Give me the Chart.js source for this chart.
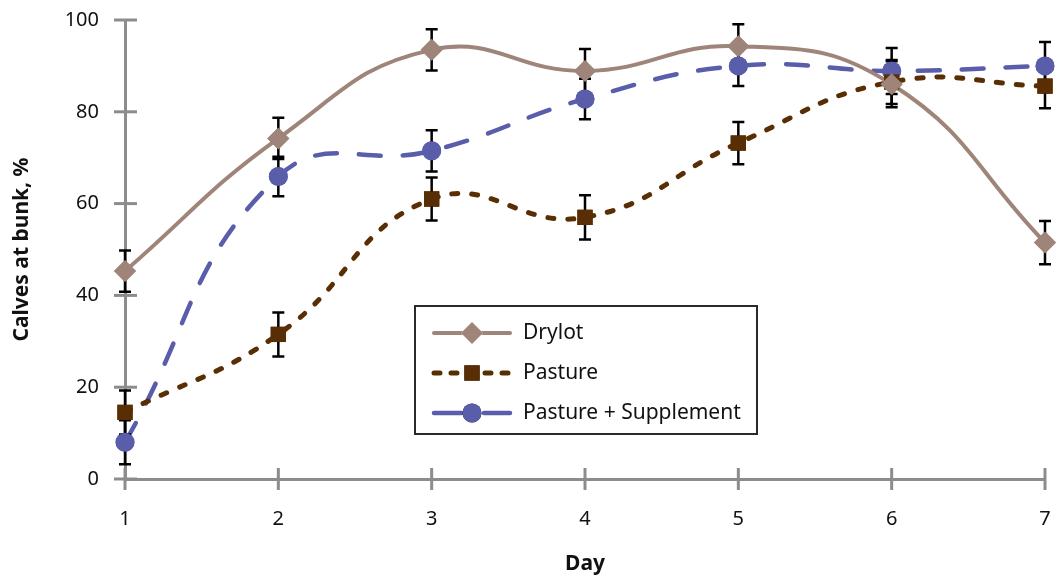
<!DOCTYPE html>
<html>
<head>
<meta charset="utf-8">
<script src="https://cdn.jsdelivr.net/npm/chart.js@4"></script>
<style>
  html, body { margin: 0; padding: 0; background: #fff; }
  #wrap { width: 1056px; height: 581px; }
</style>
</head>
<body>
<div id="wrap"><canvas id="chart" width="1056" height="581"></canvas></div>
<script>
const days = ['1', '2', '3', '4', '5', '6', '7'];
const drylot = [45.3, 74.2, 93.5, 88.9, 94.3, 86.0, 51.5];
const drylotErr = [4.5, 4.5, 4.5, 4.8, 4.8, 5.0, 4.7];
const pasture = [14.5, 31.5, 61.0, 57.0, 73.2, 86.5, 85.6];
const pastureErr = [4.8, 4.8, 4.7, 4.8, 4.6, 4.8, 4.8];
const suppl = [8.0, 65.9, 71.5, 82.8, 90.0, 88.9, 90.0];
const supplErr = [4.8, 4.3, 4.5, 4.4, 4.4, 5.0, 5.2];
const yTicks = [0, 20, 40, 60, 80, 100];

const FONT = '"Noto Sans", "Open Sans", sans-serif';
const axisGray = '#8c8c8c';

// error bars, then the points again so they sit on top
const errorBars = {
  id: 'errorBars',
  afterDatasetsDraw(chart) {
    const { ctx, scales: { x, y } } = chart;
    ctx.save();
    ctx.strokeStyle = '#000';
    ctx.lineWidth = 2.5;
    chart.data.datasets.forEach(ds => {
      ds.data.forEach((v, i) => {
        const e = ds.err[i];
        const px = x.getPixelForValue(i);
        const top = y.getPixelForValue(v + e);
        const bot = y.getPixelForValue(v - e);
        ctx.beginPath();
        ctx.moveTo(px, top); ctx.lineTo(px, bot);
        ctx.moveTo(px - 6, top); ctx.lineTo(px + 6, top);
        ctx.moveTo(px - 6, bot); ctx.lineTo(px + 6, bot);
        ctx.stroke();
      });
    });
    ctx.restore();
    for (let di = chart.data.datasets.length - 1; di >= 0; di--) {
      chart.getDatasetMeta(di).data.forEach(p => p.draw(ctx, chart.chartArea));
    }
  }
};

// axis ticks crossing the axis lines
const crossTicks = {
  id: 'crossTicks',
  afterDraw(chart) {
    const { ctx, scales: { x, y }, chartArea: a } = chart;
    ctx.save();
    ctx.strokeStyle = axisGray;
    ctx.lineWidth = 3;
    y.ticks.forEach(t => {
      const py = y.getPixelForValue(t.value);
      ctx.beginPath(); ctx.moveTo(a.left - 11, py); ctx.lineTo(a.left + 12, py); ctx.stroke();
    });
    x.ticks.forEach((t, i) => {
      const px = x.getPixelForValue(i);
      ctx.beginPath(); ctx.moveTo(px, a.bottom - 11); ctx.lineTo(px, a.bottom + 11); ctx.stroke();
    });
    ctx.restore();
  }
};

// boxed legend inside the plot
const boxLegend = {
  id: 'boxLegend',
  afterDraw(chart) {
    const { ctx } = chart;
    const bx = 415, by = 306, bw = 342, bh = 128;
    ctx.save();
    ctx.fillStyle = '#fff';
    ctx.fillRect(bx, by, bw, bh);
    ctx.strokeStyle = '#2a2a2a';
    ctx.lineWidth = 2;
    ctx.strokeRect(bx, by, bw, bh);
    const rows = [333, 373, 413];
    chart.data.datasets.forEach((ds, i) => {
      const ry = rows[i];
      ctx.strokeStyle = ds.borderColor;
      ctx.lineWidth = ds.borderWidth;
      ctx.lineCap = 'round';
      ctx.setLineDash(i === 1 ? [6, 11] : (i === 2 ? [28, 22] : []));
      ctx.beginPath(); ctx.moveTo(434, ry); ctx.lineTo(510, ry); ctx.stroke();
      ctx.setLineDash([]);
      Chart.helpers.drawPoint(ctx, {
        pointStyle: ds.pointStyle, radius: ds.pointRadius, borderWidth: 0
      }, 472, ry);
      ctx.fillStyle = ds.pointBackgroundColor;
      ctx.fill();
      ctx.fillStyle = '#111';
      ctx.font = '21px ' + FONT;
      ctx.textBaseline = 'middle';
      ctx.fillText(ds.label, 523, ry);
    });
    ctx.restore();
  }
};

new Chart(document.getElementById('chart'), {
  type: 'line',
  data: {
    labels: days,
    datasets: [
      { label: 'Drylot', data: drylot, err: drylotErr,
        borderColor: '#9f8579', pointBackgroundColor: '#9f8579', pointBorderWidth: 0,
        borderWidth: 4, pointStyle: 'rectRot', pointRadius: 11, tension: 0.45 },
      { label: 'Pasture', data: pasture, err: pastureErr,
        borderColor: '#5a2e04', pointBackgroundColor: '#5a2e04', pointBorderWidth: 0,
        borderWidth: 5, borderDash: [6, 14], borderCapStyle: 'round',
        pointStyle: 'rect', pointRadius: 10.8, tension: 0.45 },
      { label: 'Pasture + Supplement', data: suppl, err: supplErr,
        borderColor: '#5a5eaa', pointBackgroundColor: '#5a5eaa', pointBorderWidth: 0,
        borderWidth: 4.5, borderDash: [22, 22], borderCapStyle: 'round',
        pointStyle: 'circle', pointRadius: 9.5, tension: 0.45 }
    ]
  },
  options: {
    responsive: false,
    animation: false,
    layout: { padding: { left: 0, right: 11, top: 20, bottom: 0 } },
    plugins: { legend: { display: false }, tooltip: { enabled: false } },
    scales: {
      x: {
        offset: false,
        grid: { display: false },
        border: { display: true, color: axisGray, width: 3 },
        ticks: { color: '#111', font: { family: FONT, size: 20 }, padding: 20, maxRotation: 0 },
        title: { display: true, text: 'Day', color: '#111', font: { family: FONT, size: 21, weight: 'bold' }, padding: { top: 14 } },
        afterFit(s) { s.height = 102; s.paddingLeft = 0; s.paddingRight = 0; }
      },
      y: {
        min: 0, max: 100,
        afterBuildTicks(s) { s.ticks = yTicks.map(v => ({ value: v })); },
        grid: { display: false },
        border: { display: true, color: axisGray, width: 3 },
        ticks: { color: '#111', font: { family: FONT, size: 20 }, padding: 18 },
        title: { display: true, text: 'Calves at bunk, %', color: '#111', font: { family: FONT, size: 21, weight: 'bold' }, padding: { top: 9, bottom: 8 } },
        afterFit(s) { s.width = 125; s.paddingTop = 0; s.paddingBottom = 0; }
      }
    }
  },
  plugins: [errorBars, crossTicks, boxLegend]
});
</script>
</body>
</html>
